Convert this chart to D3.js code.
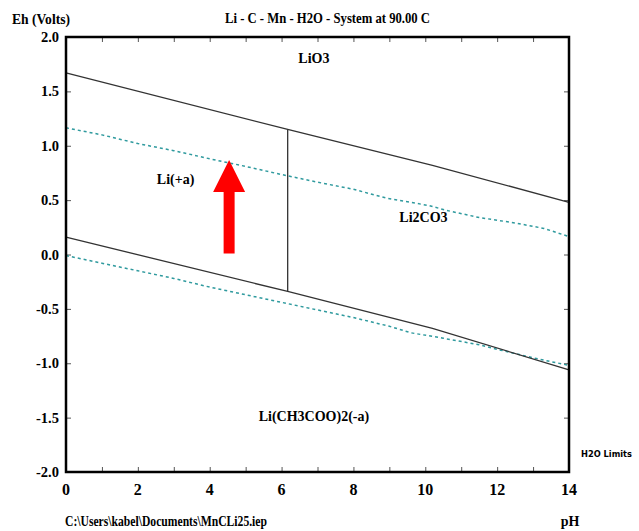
<!DOCTYPE html>
<html>
<head>
<meta charset="utf-8">
<script src="https://cdn.jsdelivr.net/npm/d3@7"></script>
<style>
  body { margin: 0; background: #fff; }
  text { font-family: "Liberation Serif", "Times New Roman", serif; font-weight: bold; }
</style>
</head>
<body>
<script>
// stability field boundaries (pH, Eh)
const upperPh = [0, 6.17, 10.2, 14];
const upperEh = [1.67, 1.15, 0.82, 0.48];
const lowerPh = [0, 6.17, 10.2, 14];
const lowerEh = [0.16, -0.34, -0.68, -1.06];
const dividerPh = 6.17;
const dividerEh = [1.15, -0.34];

// water stability limits (dashed)
const o2Ph = [0, 1, 2, 3, 4, 5, 6, 7, 8, 8.9, 10.1, 10.6, 11.5, 12.5, 13.3, 14];
const o2Eh = [1.165, 1.1, 1.02, 0.955, 0.88, 0.81, 0.735, 0.665, 0.6, 0.52, 0.45, 0.405, 0.34, 0.29, 0.24, 0.165];
const h2Ph = [0, 1, 2, 3, 4, 5, 6, 7, 8, 9, 9.6, 10.5, 11.5, 12.1, 13, 14];
const h2Eh = [-0.01, -0.08, -0.15, -0.22, -0.3, -0.37, -0.44, -0.51, -0.58, -0.66, -0.72, -0.77, -0.83, -0.88, -0.95, -1.02];

const speciesNames = ["LiO3", "Li(+a)", "Li2CO3", "Li(CH3COO)2(-a)"];
const speciesPh = [6.9, 3.05, 9.95, 6.9];
const speciesEh = [1.76, 0.65, 0.3, -1.53];

const xTicks = [0, 2, 4, 6, 8, 10, 12, 14];
const yTicks = [2.0, 1.5, 1.0, 0.5, 0.0, -0.5, -1.0, -1.5, -2.0];

// red arrow annotation (pH, Eh)
const arrowPh = 4.54;
const arrowEh = [0.01, 0.87];

const width = 639;
const height = 531;
const margin = { left: 66, right: 70, top: 37, bottom: 59 };

const svg = d3
  .select("body")
  .append("svg")
  .attr("width", width)
  .attr("height", height);

const xScale = d3
  .scaleLinear()
  .domain([0, 14])
  .range([margin.left, width - margin.right]);

const yScale = d3
  .scaleLinear()
  .domain([-2, 2])
  .range([height - margin.bottom, margin.top]);

const line = d3
  .line()
  .x((d) => xScale(d[0]))
  .y((d) => yScale(d[1]));

// ticks on all four sides, pointing inward
const minorX = d3.range(0, 15, 1);
svg
  .append("g")
  .attr("transform", `translate(0, ${yScale(2)})`)
  .call(d3.axisBottom(xScale).tickValues(minorX).tickSize(5).tickFormat(""))
  .call((g) => g.select(".domain").remove());
svg
  .append("g")
  .attr("transform", `translate(0, ${yScale(-2)})`)
  .call(d3.axisTop(xScale).tickValues(minorX).tickSize(5).tickFormat(""))
  .call((g) => g.select(".domain").remove());
svg
  .append("g")
  .attr("transform", `translate(${xScale(0)}, 0)`)
  .call(d3.axisRight(yScale).tickValues(yTicks).tickSize(5).tickFormat(""))
  .call((g) => g.select(".domain").remove());
svg
  .append("g")
  .attr("transform", `translate(${xScale(14)}, 0)`)
  .call(d3.axisLeft(yScale).tickValues(yTicks).tickSize(5).tickFormat(""))
  .call((g) => g.select(".domain").remove());
svg.selectAll(".tick line").attr("stroke", "#555");

// tick labels
svg
  .append("g")
  .selectAll("text")
  .data(xTicks)
  .enter()
  .append("text")
  .attr("x", (d) => xScale(d))
  .attr("y", 495)
  .attr("text-anchor", "middle")
  .style("font-size", "16px")
  .text((d) => d);

svg
  .append("g")
  .selectAll("text")
  .data(yTicks)
  .enter()
  .append("text")
  .attr("x", 59)
  .attr("y", (d) => yScale(d) + 5)
  .attr("text-anchor", "end")
  .style("font-size", "14.5px")
  .text((d) => d.toFixed(1));

// water limits
const h2o = [
  d3.zip(o2Ph, o2Eh),
  d3.zip(h2Ph, h2Eh),
];
svg
  .append("g")
  .selectAll("path")
  .data(h2o)
  .enter()
  .append("path")
  .attr("d", line)
  .attr("fill", "none")
  .attr("stroke", "#2f9a9e")
  .attr("stroke-width", 1.5)
  .attr("stroke-dasharray", "3,3");

// field boundaries
const bounds = [
  d3.zip(upperPh, upperEh),
  d3.zip(lowerPh, lowerEh),
  [[dividerPh, dividerEh[0]], [dividerPh, dividerEh[1]]],
];
svg
  .append("g")
  .selectAll("path")
  .data(bounds)
  .enter()
  .append("path")
  .attr("d", line)
  .attr("fill", "none")
  .attr("stroke", "#333")
  .attr("stroke-width", 1.3);

// frame
svg
  .append("rect")
  .attr("x", xScale(0))
  .attr("y", yScale(2))
  .attr("width", xScale(14) - xScale(0))
  .attr("height", yScale(-2) - yScale(2))
  .attr("fill", "none")
  .attr("stroke", "#000")
  .attr("stroke-width", 2.5);

// species labels
svg
  .append("g")
  .selectAll("text")
  .data(speciesNames)
  .enter()
  .append("text")
  .attr("x", (d, i) => xScale(speciesPh[i]))
  .attr("y", (d, i) => yScale(speciesEh[i]))
  .attr("text-anchor", "middle")
  .style("font-size", "14px")
  .text((d) => d);

// arrow
const ax = xScale(arrowPh);
const yBase = yScale(arrowEh[0]);
const yTip = yScale(arrowEh[1]);
const headBase = yTip + 32;
svg
  .append("path")
  .attr(
    "d",
    `M${ax - 5.5},${yBase} L${ax - 5.5},${headBase} L${ax - 16},${headBase} L${ax},${yTip} ` +
      `L${ax + 16},${headBase} L${ax + 5.5},${headBase} L${ax + 5.5},${yBase} Z`
  )
  .attr("fill", "#ff0000");

// titles
svg
  .append("text")
  .attr("x", 225)
  .attr("y", 23)
  .attr("textLength", 205)
  .attr("lengthAdjust", "spacingAndGlyphs")
  .style("font-size", "14px")
  .text("Li - C - Mn - H2O - System at 90.00 C");

svg
  .append("text")
  .attr("x", 12)
  .attr("y", 24)
  .attr("textLength", 58)
  .attr("lengthAdjust", "spacingAndGlyphs")
  .style("font-size", "14px")
  .text("Eh (Volts)");

svg
  .append("text")
  .attr("x", 65)
  .attr("y", 526)
  .attr("textLength", 202)
  .attr("lengthAdjust", "spacingAndGlyphs")
  .style("font-size", "14px")
  .text("C:\\Users\\kabel\\Documents\\MnCLi25.iep");

svg
  .append("text")
  .attr("x", 570)
  .attr("y", 526)
  .attr("text-anchor", "middle")
  .style("font-size", "14px")
  .text("pH");

svg
  .append("text")
  .attr("x", 581)
  .attr("y", 457)
  .style("font-family", "'DejaVu Sans', sans-serif")
  .style("font-size", "9.5px")
  .attr("textLength", 51)
  .attr("lengthAdjust", "spacingAndGlyphs")
  .text("H2O Limits");
</script>
</body>
</html>
